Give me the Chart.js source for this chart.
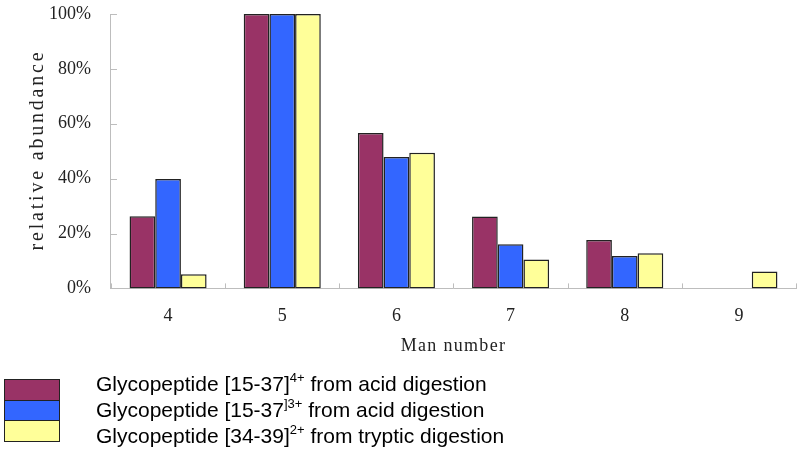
<!DOCTYPE html>
<html>
<head>
<meta charset="utf-8">
<script src="https://cdn.jsdelivr.net/npm/chart.js@4.4.0/dist/chart.umd.min.js"></script>
<style>
  html, body { margin: 0; padding: 0; background: #fff; }
  #wrap { width: 800px; height: 452px; }
</style>
</head>
<body>
<div id="wrap"><canvas id="grafico"></canvas></div>
<script>
// Dados =====================================================================

const manNumbers = ["4", "5", "6", "7", "8", "9"];
const acid4 = [26.3, 100, 56.6, 26.2, 17.6, null];
const acid3 = [39.9, 100, 47.9, 16.1, 11.8, null];
const tryptic2 = [5.2, 100, 49.4, 10.5, 12.8, 6.2];
const yTicks = [0, 20, 40, 60, 80, 100];

// legend text pieces: main text, superscript, rest
const legendMain = ["Glycopeptide [15-37]", "Glycopeptide [15-37", "Glycopeptide [34-39]"];
const legendSup = ["4+", "]3+", "2+"];
const legendRest = [" from acid digestion", " from acid digestion", " from tryptic digestion"];

const colors = ["#993366", "#3366FF", "#FFFF99"];
const serif = "'Liberation Serif', 'DejaVu Serif', serif";

// Plugins ===================================================================

const inwardTicks = {
  id: "inwardTicks",
  afterDraw(chart) {
    const ctx = chart.ctx;
    const y = chart.scales.y;
    const area = chart.chartArea;
    ctx.save();
    ctx.strokeStyle = "#bdbdbd";
    ctx.lineWidth = 1;
    ctx.beginPath();
    for (let i = 0; i <= manNumbers.length; i++) {
      const px = Math.round(area.left + (area.right - area.left) * i / manNumbers.length) + 0.5;
      ctx.moveTo(px, area.bottom);
      ctx.lineTo(px, area.bottom - 5);
    }
    yTicks.forEach(v => {
      const py = Math.round(y.getPixelForValue(v)) + 0.5;
      ctx.moveTo(area.left, py);
      ctx.lineTo(area.left + 6, py);
    });
    ctx.stroke();
    ctx.restore();
  },
};

// axis titles drawn by hand so they can be letter-spaced like the original
const axisTitles = {
  id: "axisTitles",
  afterDraw(chart) {
    const ctx = chart.ctx;
    const area = chart.chartArea;
    ctx.save();
    ctx.fillStyle = "#222";
    ctx.textAlign = "center";
    ctx.textBaseline = "middle";
    ctx.font = "20px " + serif;
    ctx.letterSpacing = "2.8px";
    ctx.translate(38, 150);
    ctx.rotate(-Math.PI / 2);
    ctx.fillText("relative abundance", 0, 0);
    ctx.restore();

    ctx.save();
    ctx.fillStyle = "#222";
    ctx.textAlign = "center";
    ctx.textBaseline = "middle";
    ctx.font = "18px " + serif;
    ctx.letterSpacing = "1.3px";
    ctx.fillText("Man number", (area.left + area.right) / 2, 346);
    ctx.restore();
  },
};

const legendBoxes = {
  id: "legendBoxes",
  afterDraw(chart) {
    const ctx = chart.ctx;
    const boxTop = [379, 400, 420, 441];
    const textY = [385, 411, 437];
    const big = "21px 'Liberation Sans', Arial, sans-serif";
    const small = "13px 'Liberation Sans', Arial, sans-serif";
    ctx.save();
    chart.data.datasets.forEach((ds, i) => {
      ctx.fillStyle = ds.backgroundColor;
      ctx.fillRect(4, boxTop[i], 55, boxTop[i + 1] - boxTop[i]);
      ctx.strokeStyle = "#222";
      ctx.lineWidth = 1;
      ctx.strokeRect(4.5, boxTop[i] + 0.5, 55, boxTop[i + 1] - boxTop[i]);

      ctx.fillStyle = "#000";
      ctx.textBaseline = "middle";
      ctx.font = big;
      let x = 96;
      ctx.fillText(legendMain[i], x, textY[i]);
      x += ctx.measureText(legendMain[i]).width;
      ctx.font = small;
      ctx.fillText(legendSup[i], x, textY[i] - 7);
      x += ctx.measureText(legendSup[i]).width;
      ctx.font = big;
      ctx.fillText(legendRest[i], x, textY[i]);
    });
    ctx.restore();
  },
};

// Gráfico ===================================================================

const data = {
  labels: manNumbers,
  datasets: [
    { label: legendMain[0] + legendSup[0] + legendRest[0], data: acid4, backgroundColor: colors[0] },
    { label: legendMain[1] + legendSup[1] + legendRest[1], data: acid3, backgroundColor: colors[1] },
    { label: legendMain[2] + legendSup[2] + legendRest[2], data: tryptic2, backgroundColor: colors[2] },
  ].map(d => Object.assign(d, {
    borderColor: "#222",
    borderWidth: 1.5,
    borderSkipped: false,
    categoryPercentage: 0.675,
    barPercentage: 1,
  })),
};

const config = {
  type: "bar",
  data: data,
  options: {
    responsive: false,
    animation: false,
    layout: { padding: { left: 37, right: 4, top: 14, bottom: 116 } },
    plugins: {
      legend: { display: false },
      tooltip: { enabled: false },
    },
    scales: {
      x: {
        grid: { display: false },
        border: { color: "#bdbdbd" },
        ticks: { color: "#222", font: { family: serif, size: 18 }, padding: 9 },
      },
      y: {
        min: 0,
        max: 100,
        afterBuildTicks: s => { s.ticks = yTicks.map(v => ({ value: v })); },
        afterFit: s => { s.paddingTop = 0; s.paddingBottom = 0; },
        grid: { display: false },
        border: { color: "#bdbdbd" },
        ticks: {
          color: "#222",
          font: { family: serif, size: 18 },
          padding: 12,
          callback: v => v + "%",
        },
      },
    },
  },
  plugins: [inwardTicks, axisTitles, legendBoxes],
};

const cv = document.getElementById("grafico");
cv.width = 800;
cv.height = 452;
const grafico = new Chart(cv, config);
</script>
</body>
</html>
